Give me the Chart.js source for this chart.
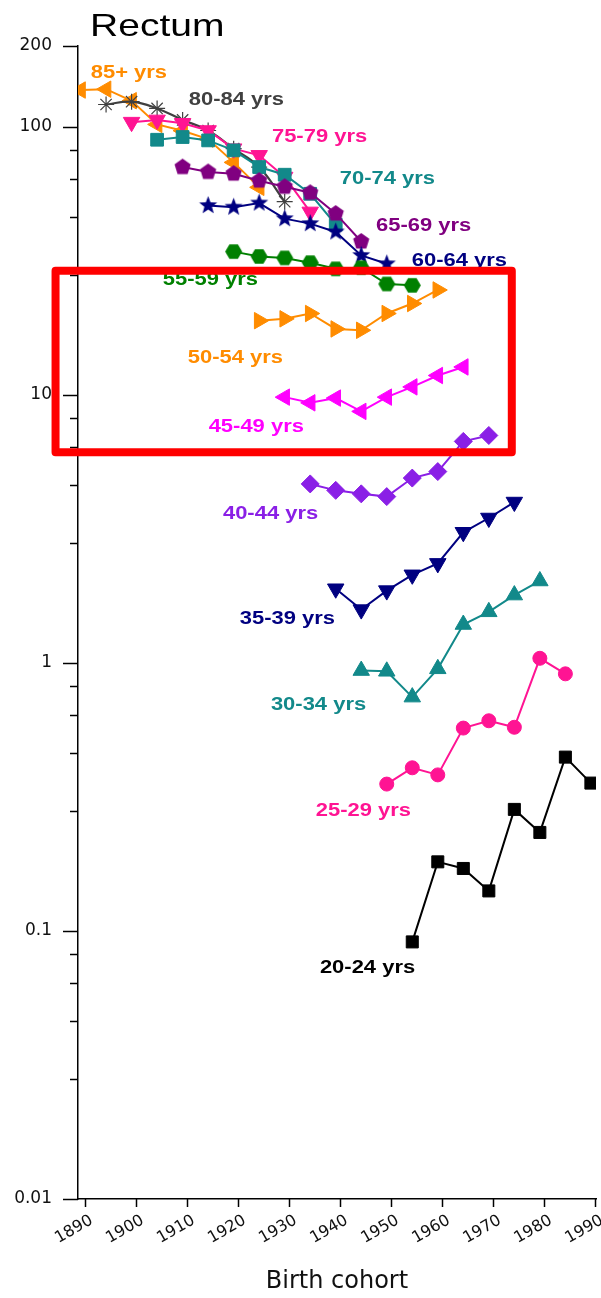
<!DOCTYPE html>
<html>
<head>
<meta charset="utf-8">
<title>Rectum - incidence by birth cohort</title>
<script src="https://cdn.jsdelivr.net/npm/chart.js@4.4.1/dist/chart.umd.min.js"></script>
<style>
  html, body { margin: 0; padding: 0; background: #fff; }
  #chart-box { position: relative; width: 601px; height: 1298px; }
</style>
</head>
<body>
<div id="chart-box"><canvas id="rectum-chart" width="601" height="1298"></canvas></div>
<script>
// Birth cohorts (centre year of each 5-year group)
const birthCohorts = [1889, 1894, 1899, 1904, 1909, 1914, 1919, 1924, 1929, 1934, 1939,
                      1944, 1949, 1954, 1959, 1964, 1969, 1974, 1979, 1984, 1989];

// Rates per 100,000, one value per birth cohort (null = not observed)
const _ = null;
const age85plus = [137, 138, 125, 102, 96.6, 89.9, 73.6, 59.4, _, _, _, _, _, _, _, _, _, _, _, _, _];
const age80_84  = [_, 121, 124, 117, 106, 96.8, 82.8, 70.7, 52.5, _, _, _, _, _, _, _, _, _, _, _, _];
const age75_79  = [_, _, 104, 106, 103, 96.8, 82.8, 78.2, 64.9, 48.1, _, _, _, _, _, _, _, _, _, _, _];
const age70_74  = [_, _, _, 89.4, 91.5, 88.9, 81.6, 70.7, 66.2, 56.2, 43.1, _, _, _, _, _, _, _, _, _, _];
const age65_69  = [_, _, _, _, 70.7, 67.8, 66.8, 62.9, 59.7, 56.7, 47.4, 37.3, _, _, _, _, _, _, _, _, _];
const age60_64  = [_, _, _, _, _, 50.8, 50.1, 51.9, 45.4, 43.5, 40.5, 33.1, 30.8, _, _, _, _, _, _, _, _];
const age55_59  = [_, _, _, _, _, _, 34.2, 32.8, 32.4, 31.1, 29.5, 29.8, 25.9, 25.6, _, _, _, _, _, _, _];
const age50_54  = [_, _, _, _, _, _, _, 18.9, 19.2, 20.1, 17.6, 17.4, 20.1, 21.9, 24.6, _, _, _, _, _, _];
const age45_49  = [_, _, _, _, _, _, _, _, 9.8, 9.33, 9.72, 8.67, 9.8, 10.7, 11.8, 12.7, _, _, _, _, _];
const age40_44  = [_, _, _, _, _, _, _, _, _, 4.65, 4.40, 4.27, 4.17, 4.89, 5.17, 6.70, 7.05, _, _, _, _];
const age35_39  = [_, _, _, _, _, _, _, _, _, _, 1.89, 1.58, 1.86, 2.13, 2.35, 3.07, 3.47, 3.98, _, _, _];
const age30_34  = [_, _, _, _, _, _, _, _, _, _, _, 0.936, 0.93, 0.745, 0.95, 1.39, 1.55, 1.79, 2.02, _, _];
const age25_29  = [_, _, _, _, _, _, _, _, _, _, _, _, 0.353, 0.406, 0.382, 0.571, 0.608, 0.575, 1.04, 0.91, _];
const age20_24  = [_, _, _, _, _, _, _, _, _, _, _, _, _, 0.091, 0.181, 0.171, 0.141, 0.284, 0.233, 0.445, 0.356];

// Axis ticks
const xTickYears = [1890, 1900, 1910, 1920, 1930, 1940, 1950, 1960, 1970, 1980, 1990];
const yMajorTicks = [0.01, 0.1, 1, 10, 100, 200];
const yMajorLabels = ['0.01', '0.1', '1', '10', '100', '200'];
const yMinorTicks = [0.028, 0.046, 0.064, 0.082, 0.28, 0.46, 0.64, 0.82,
                     2.8, 4.6, 6.4, 8.2, 28, 46, 64, 82];

// Custom marker shapes (pentagon, hexagon, filled star)
function makeMarker(points, radius, color, innerRatio, startAngle) {
  const size = Math.ceil(radius * 2 + 2);
  const c = document.createElement('canvas');
  c.width = size;
  c.height = size;
  const g = c.getContext('2d');
  const n = innerRatio ? points * 2 : points;
  g.fillStyle = color;
  g.beginPath();
  for (let i = 0; i < n; i++) {
    const a = startAngle + i * 2 * Math.PI / n;
    const r = innerRatio && i % 2 ? radius * innerRatio : radius;
    g.lineTo(size / 2 + r * Math.cos(a), size / 2 + r * Math.sin(a));
  }
  g.closePath();
  g.fill();
  return c;
}

const ORANGE = '#FF8C00';
const GREY = '#404040';
const PINK = '#FF1493';
const TEAL = '#12898A';
const PURPLE = '#800080';
const NAVY = '#000080';
const GREEN = '#008000';
const MAGENTA = '#FF00FF';
const VIOLET = '#8A1FE6';

const pentagon = makeMarker(5, 8.5, PURPLE, 0, -Math.PI / 2);
const hexagon = makeMarker(6, 8.5, GREEN, 0, 0);
const star5 = makeMarker(5, 9.5, NAVY, 0.42, -Math.PI / 2);

function series(label, values, color, style, extra) {
  return Object.assign({
    label: label,
    data: birthCohorts.map((yr, i) => ({ x: yr, y: values[i] })),
    borderColor: color,
    backgroundColor: color,
    pointBackgroundColor: color,
    pointBorderColor: color,
    borderWidth: 2,
    pointStyle: style,
    pointRadius: 9,
    pointBorderWidth: 1,
    spanGaps: false,
    tension: 0
  }, extra || {});
}

const datasets = [
  series('20-24 yrs', age20_24, '#000000', 'rect', { pointRadius: 8.5 }),
  series('25-29 yrs', age25_29, PINK, 'circle', { pointRadius: 7 }),
  series('30-34 yrs', age30_34, TEAL, 'triangle', { pointRadius: 9.5 }),
  series('35-39 yrs', age35_39, NAVY, 'triangle', { pointRadius: 9.5, pointRotation: 180 }),
  series('40-44 yrs', age40_44, VIOLET, 'rectRot', { pointRadius: 9 }),
  series('45-49 yrs', age45_49, MAGENTA, 'triangle', { pointRadius: 9.5, pointRotation: 270 }),
  series('50-54 yrs', age50_54, ORANGE, 'triangle', { pointRadius: 9.5, pointRotation: 90 }),
  series('55-59 yrs', age55_59, GREEN, hexagon),
  series('60-64 yrs', age60_64, NAVY, star5),
  series('65-69 yrs', age65_69, PURPLE, pentagon),
  series('70-74 yrs', age70_74, TEAL, 'rect', { pointRadius: 9 }),
  series('75-79 yrs', age75_79, PINK, 'triangle', { pointRadius: 9.5, pointRotation: 180 }),
  series('80-84 yrs', age80_84, GREY, 'star', { pointRadius: 8, pointBorderWidth: 1.2, borderWidth: 2.2, tension: 0.4, pointBackgroundColor: 'rgba(0,0,0,0)' }),
  series('85+ yrs', age85plus, ORANGE, 'triangle', { pointRadius: 9.5, pointRotation: 270 })
];

// Where each age-group label sits: [birth year of left edge, rate at text middle]
const labelAnchors = {
  '85+ yrs': [1891, 158], '80-84 yrs': [1910.2, 126], '75-79 yrs': [1926.5, 91.8],
  '70-74 yrs': [1939.8, 64], '65-69 yrs': [1946.9, 42.7], '60-64 yrs': [1953.9, 31.6],
  '55-59 yrs': [1905.1, 26.9], '50-54 yrs': [1910, 13.7], '45-49 yrs': [1914.1, 7.6],
  '40-44 yrs': [1916.9, 3.6], '35-39 yrs': [1920.2, 1.46], '30-34 yrs': [1926.3, 0.697],
  '25-29 yrs': [1935.1, 0.28], '20-24 yrs': [1935.9, 0.0728]
};

// Highlighted region (red frame) in data units
const highlight = { fromYear: 1884.1, toYear: 1973.5, low: 6.1, high: 29 };

function wideText(ctx, text, x, y, font, color, stretch) {
  ctx.save();
  ctx.translate(x, y);
  ctx.scale(stretch, 1);
  ctx.font = font;
  ctx.fillStyle = color;
  ctx.textAlign = 'left';
  ctx.textBaseline = 'middle';
  ctx.fillText(text, 0, 0);
  ctx.restore();
}

const overlayPlugin = {
  id: 'rectumOverlay',
  afterDraw(chart) {
    const { ctx, scales: { x, y }, chartArea } = chart;
    ctx.save();
    ctx.strokeStyle = '#000';
    ctx.lineWidth = 1.5;
    // y tick marks (long for majors, short for minors)
    y.ticks.forEach(t => {
      const py = Math.round(y.getPixelForValue(t.value)) + 0.5;
      const len = yMajorTicks.includes(t.value) ? 15 : 8;
      ctx.beginPath();
      ctx.moveTo(chartArea.left - len, py);
      ctx.lineTo(chartArea.left, py);
      ctx.stroke();
    });
    // x tick marks
    x.ticks.forEach(t => {
      const px = Math.round(x.getPixelForValue(t.value)) - 0.5;
      ctx.beginPath();
      ctx.moveTo(px, chartArea.bottom);
      ctx.lineTo(px, chartArea.bottom + 8);
      ctx.stroke();
    });
    ctx.restore();

    // age-group labels in the dataset colour
    chart.data.datasets.forEach(ds => {
      const a = labelAnchors[ds.label];
      wideText(ctx, ds.label, x.getPixelForValue(a[0]), y.getPixelForValue(a[1]),
        'bold 18px "Liberation Sans", Arial, sans-serif', ds.borderColor, 1.22);
    });

    // panel title
    wideText(ctx, 'Rectum', 90, 27, '32px "Liberation Sans", Arial, sans-serif', '#000', 1.22);

    // red highlight frame
    const x0 = x.getPixelForValue(highlight.fromYear);
    const x1 = x.getPixelForValue(highlight.toYear);
    const y0 = y.getPixelForValue(highlight.high);
    const y1 = y.getPixelForValue(highlight.low);
    ctx.save();
    ctx.strokeStyle = '#FF0000';
    ctx.lineWidth = 8;
    ctx.lineJoin = 'round';
    ctx.strokeRect(x0, y0, x1 - x0, y1 - y0);
    ctx.restore();
  }
};

new Chart(document.getElementById('rectum-chart'), {
  type: 'line',
  data: { datasets: datasets },
  plugins: [overlayPlugin],
  options: {
    responsive: false,
    animation: false,
    devicePixelRatio: 1,
    layout: { autoPadding: false, padding: { top: 46, right: 5, bottom: 0, left: 0 } },
    plugins: { legend: { display: false }, tooltip: { enabled: false } },
    scales: {
      x: {
        type: 'linear',
        min: 1888.5,
        max: 1990,
        afterBuildTicks: s => { s.ticks = xTickYears.map(v => ({ value: v })); },
        afterFit: s => { s.height = 99; s.paddingLeft = 0; s.paddingRight = 0; },
        grid: { display: false, drawTicks: false },
        border: { display: true, color: '#000', width: 1.5 },
        ticks: {
          autoSkip: false,
          minRotation: 30,
          maxRotation: 30,
          padding: 12,
          labelOffset: 6,
          color: '#111',
          font: { family: 'DejaVu Sans', size: 16 },
          callback: v => String(v)
        },
        title: {
          display: true,
          text: 'Birth cohort',
          color: '#111',
          font: { family: 'DejaVu Sans', size: 24 },
          padding: { top: 0, bottom: 2 }
        }
      },
      y: {
        type: 'logarithmic',
        min: 0.01,
        max: 200,
        afterBuildTicks: s => {
          s.ticks = yMajorTicks.concat(yMinorTicks).sort((a, b) => a - b).map(v => ({ value: v }));
        },
        afterFit: s => { s.width = 78; },
        grid: { display: false, drawTicks: false },
        border: { display: true, color: '#000', width: 1.5 },
        ticks: {
          autoSkip: false,
          padding: 26,
          color: '#111',
          font: { family: 'DejaVu Sans', size: 17 },
          callback: v => {
            const i = yMajorTicks.indexOf(v);
            return i >= 0 ? yMajorLabels[i] : '';
          }
        }
      }
    }
  }
});
</script>
</body>
</html>
